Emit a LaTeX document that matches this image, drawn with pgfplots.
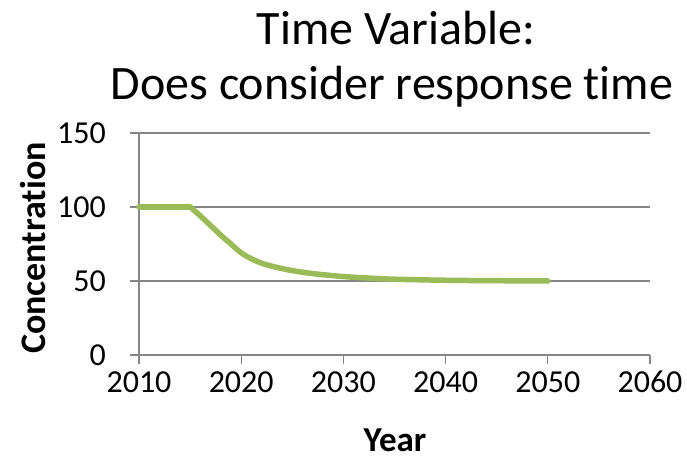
\documentclass[border=0pt]{standalone}
\usepackage{fontspec}
\setmainfont{Carlito}[Ligatures={NoCommon}]
\usepackage{pgfplots}
\pgfplotsset{compat=1.18}
\definecolor{lgreen}{RGB}{155,187,89}
\definecolor{axgray}{RGB}{134,134,134}
\begin{document}
\begin{tikzpicture}[x=1pt,y=1pt]
\useasboundingbox (0,0) rectangle (687,463);
\begin{axis}[
  at={(139pt,108pt)}, anchor=south west,
  scale only axis, width=511pt, height=222pt,
  xmin=2010, xmax=2060, ymin=0, ymax=150,
  xtick={2010,2020,2030,2040,2050,2060},
  ytick={0,50,100,150},
  axis x line*=bottom, axis y line*=left,
  axis line style={axgray, line width=1.3pt},
  tick align=outside,
  major tick length=9pt,
  tick style={axgray, line width=1.3pt},
  ymajorgrids, grid style={axgray, line width=1.3pt},
  /pgf/number format/assume math mode=true,
  /pgf/number format/1000 sep={},
  ticklabel style={font=\fontsize{32}{38}\selectfont, text=black, inner sep=0pt},
  xticklabel style={anchor=base, yshift=-28pt},
  yticklabel style={anchor=east, xshift=-24pt},
  clip=false,
]
\addplot[lgreen, line width=5.5pt, line cap=round, line join=round] coordinates {
(2010,100) (2015,100)
};
\addplot[lgreen, line width=5.5pt, line cap=round, line join=round, smooth, tension=0.5] coordinates {
(2015,100) (2016,94) (2017,87.5) (2018,81) (2019,75) (2020,69) (2021,65) (2022,62) (2023,60) (2024,58.4) (2025,57) (2027,55) (2030,53) (2033,51.8) (2035,51.2) (2040,50.5) (2045,50.2) (2050,50)
};
\end{axis}
\node[anchor=base, font=\fontsize{48}{56}\selectfont, inner sep=0] at (396,418) {Time Variable:};
\node[anchor=base, font=\fontsize{48}{56}\selectfont, inner sep=0] at (392,363) {Does consider response time};
\node[anchor=base, font=\bfseries\fontsize{35}{42}\selectfont, inner sep=0] at (395,12) {Year};
\node[anchor=base, rotate=90, font=\bfseries\fontsize{36}{42}\selectfont, inner sep=0] at (45,215) {Concentration};
\end{tikzpicture}
\end{document}
